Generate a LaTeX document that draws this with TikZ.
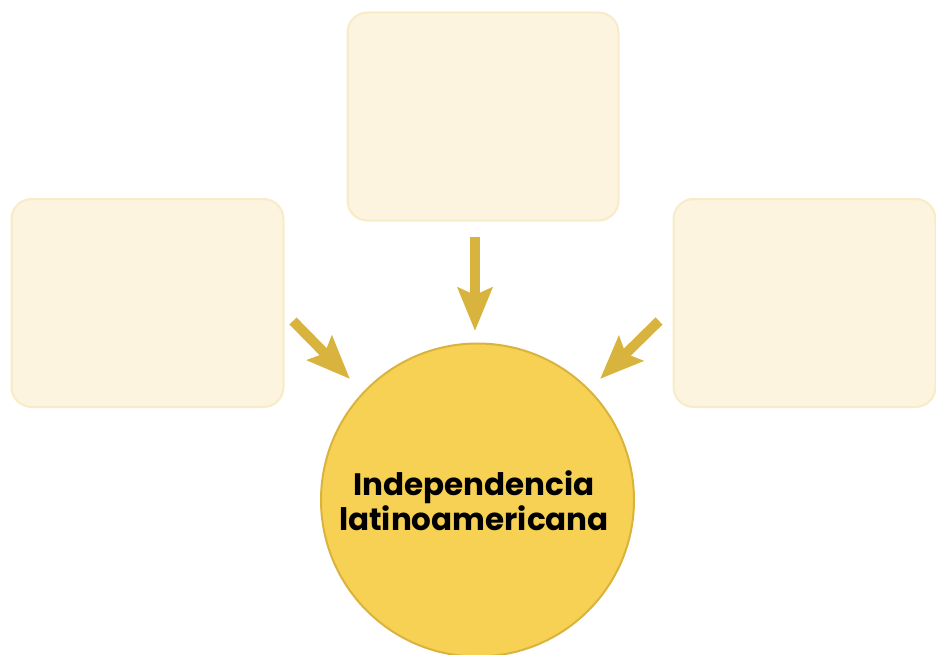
\documentclass[tikz,border=0pt]{standalone}
\usepackage{fontspec}
\setmainfont{Poppins}
\usetikzlibrary{arrows.meta}
\definecolor{boxfill}{HTML}{FCF4DE}
\definecolor{boxline}{HTML}{F7EBC8}
\definecolor{circfill}{HTML}{F7D154}
\definecolor{circline}{HTML}{D9B33C}
\definecolor{arrowcol}{HTML}{D8B43F}
\tikzset{
  emptybox/.style={draw=boxline, fill=boxfill, line width=2pt, rounded corners=20pt, inner sep=0pt},
  bigarrow/.style={draw=arrowcol, line width=10pt, -{Stealth[length=43pt,width=34pt,inset=7pt]}}
}
\begin{document}
\begin{tikzpicture}[x=1pt,y=-1pt]
\useasboundingbox (0,0) rectangle (936,655);
\node[emptybox, minimum width=272pt, minimum height=208pt] (left) at (147.5,303) {};
\node[emptybox, minimum width=271pt, minimum height=208pt] (top) at (483,116.5) {};
\node[emptybox, minimum width=262pt, minimum height=208pt] (right) at (804.5,303) {};
\node[draw=circline, fill=circfill, line width=2pt, circle, minimum size=313pt, inner sep=0pt] (hub) at (477.5,500) {};
\node[align=center, font=\bfseries\fontsize{31}{35}\selectfont] (title) at (474,501) {Independencia\\latinoamericana};
\coordinate (ts) at (475,237);
\coordinate (te) at (475,331);
\coordinate (ls) at (293,321);
\coordinate (le) at (350,379);
\coordinate (rs) at (659,321);
\coordinate (re) at (600,379);
\draw[bigarrow] (ts) -- (te);
\draw[bigarrow] (ls) -- (le);
\draw[bigarrow] (rs) -- (re);
\end{tikzpicture}
\end{document}
